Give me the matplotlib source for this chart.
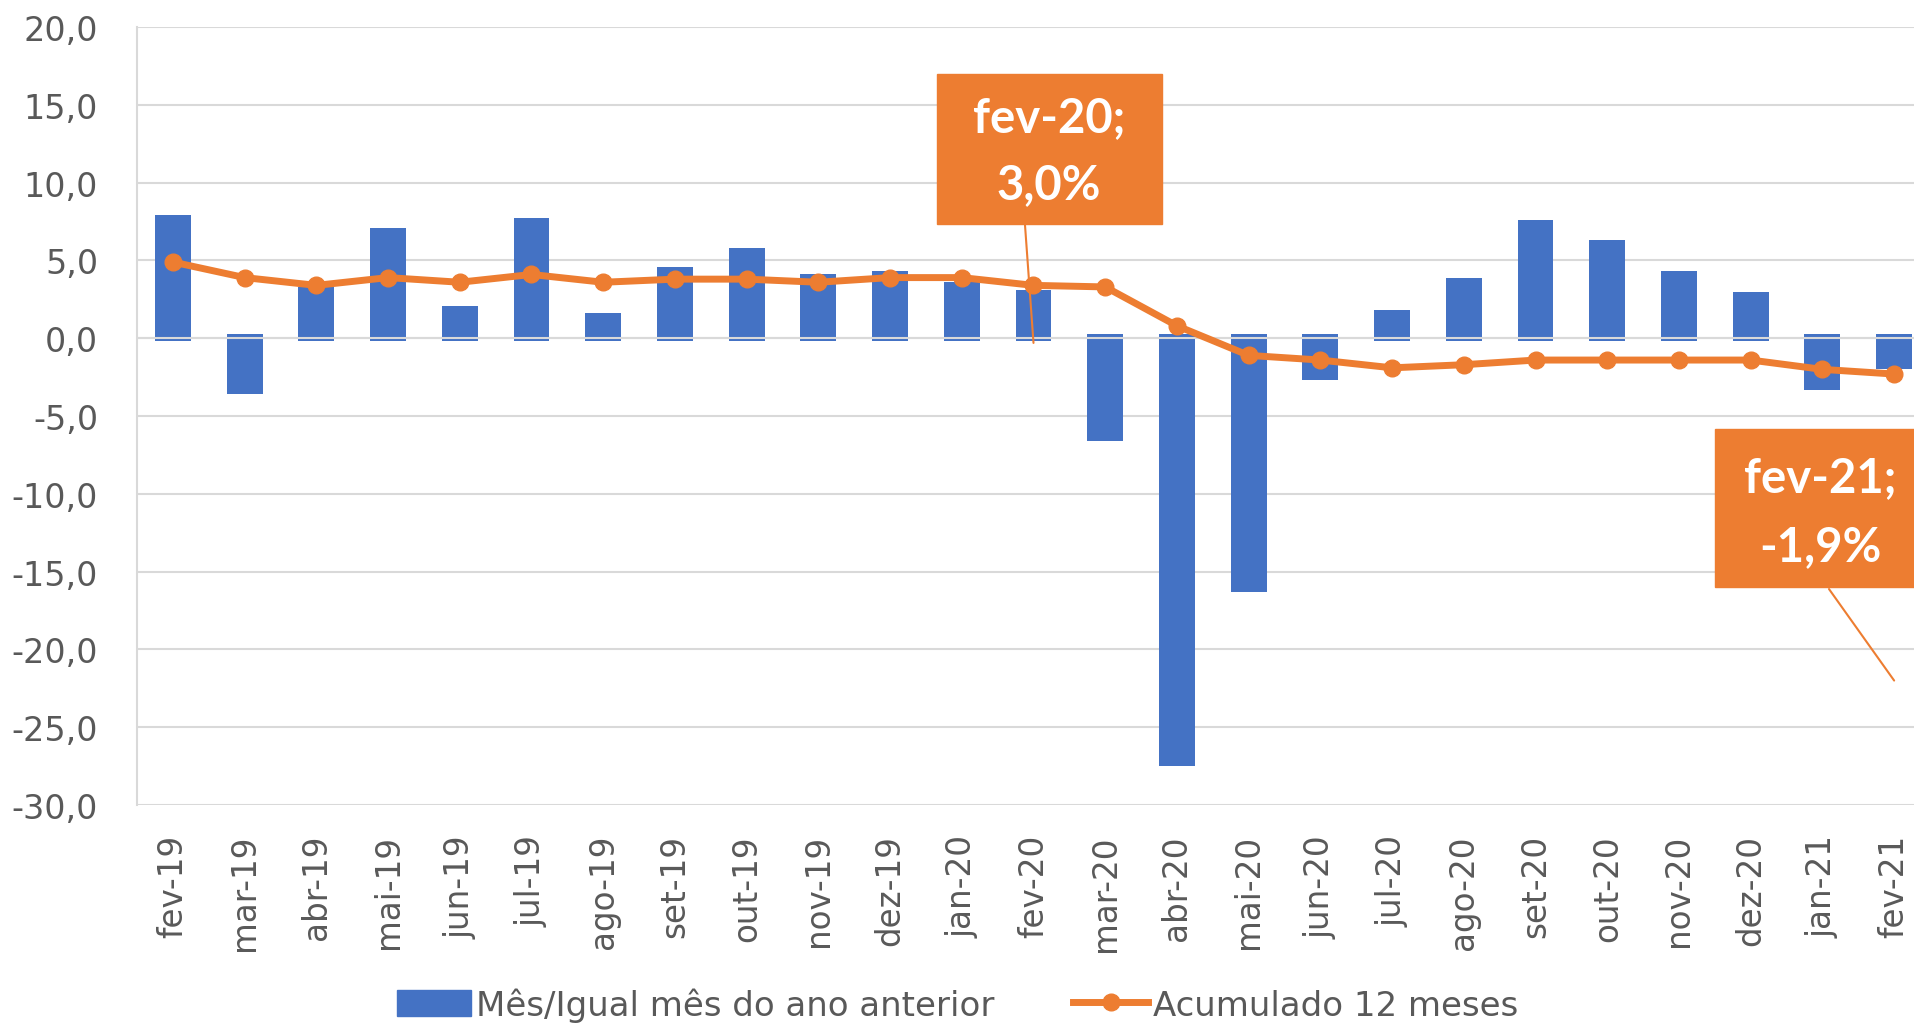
import numpy as np
import matplotlib.pyplot as plt
from matplotlib.patches import Rectangle, Patch
from matplotlib.lines import Line2D

# dados
meses = ["fev-19", "mar-19", "abr-19", "mai-19", "jun-19", "jul-19", "ago-19",
         "set-19", "out-19", "nov-19", "dez-19", "jan-20", "fev-20", "mar-20",
         "abr-20", "mai-20", "jun-20", "jul-20", "ago-20", "set-20", "out-20",
         "nov-20", "dez-20", "jan-21", "fev-21"]
mes_igual = [7.9, -3.6, 3.3, 7.1, 2.1, 7.7, 1.6, 4.6, 5.8, 4.1, 4.3, 3.6, 3.1,
             -6.6, -27.5, -16.3, -2.7, 1.8, 3.9, 7.6, 6.3, 4.3, 3.0, -3.3, -2.0]
acumulado = [4.9, 3.9, 3.4, 3.9, 3.6, 4.1, 3.6, 3.8, 3.8, 3.6, 3.9, 3.9, 3.4,
             3.3, 0.8, -1.1, -1.4, -1.9, -1.7, -1.4, -1.4, -1.4, -1.4, -2.0, -2.3]
yticks = [20, 15, 10, 5, 0, -5, -10, -15, -20, -25, -30]
ytick_labels = ["20,0", "15,0", "10,0", "5,0", "0,0", "-5,0", "-10,0",
                "-15,0", "-20,0", "-25,0", "-30,0"]
rotulos = [("fev-20;", "3,0%"), ("fev-21;", "-1,9%")]

azul = "#4472C4"
laranja = "#ED7D31"
cinza = "#D9D9D9"
texto = "#595959"

W, H = 1915, 1026
fig = plt.figure(figsize=(19.15, 10.259), dpi=100)
ax = fig.add_axes([137 / W, (H - 806) / H, (1930 - 137) / W, (806 - 28) / H])

x = np.arange(len(meses))
v = np.array(mes_igual)
base = np.where(v > 0, -0.2, 0.25)
ax.bar(x, v - base, bottom=base, width=0.5, color=azul, zorder=2)
ax.axhline(0, color=cinza, lw=1.5, zorder=2.5)
ax.plot(x, acumulado, color=laranja, lw=5, marker="o", markersize=12, zorder=3)

ax.set_xlim(-0.5, len(meses) - 0.5)
ax.set_ylim(-30, 20)
ax.set_yticks(yticks)
ax.set_yticklabels(ytick_labels)
ax.set_xticks(x)
ax.set_xticklabels(meses, rotation=90)
ax.tick_params(axis="y", length=0, pad=28, labelsize=24, labelcolor=texto)
ax.tick_params(axis="x", length=0, pad=21, labelsize=23.5, labelcolor=texto)
ax.grid(axis="y", color=cinza, lw=1.5, zorder=0)
ax.set_axisbelow(True)
for s in ["top", "right", "bottom"]:
    ax.spines[s].set_visible(False)
ax.spines["left"].set_color(cinza)
ax.spines["left"].set_linewidth(1.5)

# caixas de rotulo
caixas = [(937, 75, 1162, 225), (1715, 430, 1925, 588)]
centros = [(1049, 118, 185), (1820, 478, 547)]
alvos = [(12, -0.3), (24, -22)]
inicio = [(1025, 226), (1829, 590)]
for i in range(2):
    x0, y0, x1, y1 = caixas[i]
    fig.patches.append(Rectangle((x0 / W, 1 - y1 / H), (x1 - x0) / W, (y1 - y0) / H,
                                 transform=fig.transFigure, color=laranja, zorder=5))
    cx, l1, l2 = centros[i]
    fig.text(cx / W, 1 - l1 / H, rotulos[i][0], color="white", fontsize=34,
             fontweight="bold", family="Lato", ha="center", va="center", zorder=6)
    fig.text(cx / W, 1 - l2 / H, rotulos[i][1], color="white", fontsize=34,
             fontweight="bold", family="Lato", ha="center", va="center", zorder=6)
    ax.annotate("", xy=alvos[i], xycoords="data",
                xytext=(inicio[i][0] / W, 1 - inicio[i][1] / H), textcoords="figure fraction",
                arrowprops=dict(arrowstyle="-", color=laranja, lw=1.5, shrinkA=0, shrinkB=0))

handles = [Patch(color=azul),
           Line2D([], [], color=laranja, lw=5, marker="o", markersize=12)]
fig.legend(handles, ["Mês/Igual mês do ano anterior", "Acumulado 12 meses"],
           loc="center", bbox_to_anchor=(0.5, 0.02), ncol=2, frameon=False,
           fontsize=24.5, labelcolor=texto, handlelength=2.2, handleheight=0.8,
           handletextpad=0.15, columnspacing=2.3)

fig.savefig("out.png", dpi=100)
